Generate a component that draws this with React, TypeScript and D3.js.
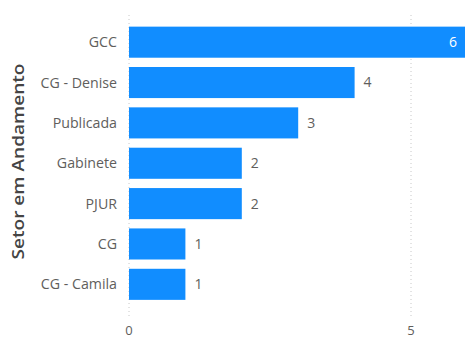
import React from "react";
import * as d3 from "d3";

const categories = ["GCC", "CG - Denise", "Publicada", "Gabinete", "PJUR", "CG", "CG - Camila"];
const values = [6, 4, 3, 2, 2, 1, 1];
const xTicks = [0, 5];
const axisTitle = "Setor em Andamento";

const W = 465;
const H = 338;

export default function App() {
  const x = d3.scaleLinear().domain([0, 5]).range([129, 411]);
  const y = d3.scaleBand<string>().domain(categories).range([22, 304.5]).paddingInner(0.23).paddingOuter(0.115);
  const font = "'Open Sans', 'Noto Sans', sans-serif";
  return (
    <div style={{ position: "fixed", left: 0, top: 0 }}>
      <svg width={W} height={H} style={{ display: "block", background: "#fff" }}>
        {xTicks.map((t) => (
          <line key={"g" + t} x1={x(t)} x2={x(t)} y1={15} y2={316} stroke="#c8c8c8" strokeWidth={1} strokeDasharray="1,3" />
        ))}
        {categories.map((c, i) => {
          const v = values[i];
          const y0 = y(c)!;
          const bw = y.bandwidth();
          const xe = x(v);
          const inside = xe > W - 20;
          return (
            <g key={c}>
              <rect x={x(0)} y={y0} width={xe - x(0)} height={bw} fill="#118DFF" />
              <text x={117} y={y0 + bw / 2} dy="0.35em" textAnchor="end" fontFamily={font} fontSize={14.2} fill="#605E5C">{c}</text>
              <text
                x={inside ? Math.min(xe, W) - 8 : xe + 9}
                y={y0 + bw / 2}
                dy="0.35em"
                textAnchor={inside ? "end" : "start"}
                fontFamily={font}
                fontSize={14}
                fill={inside ? "#ffffff" : "#605E5C"}
              >
                {v}
              </text>
            </g>
          );
        })}
        {xTicks.map((t) => (
          <text key={"t" + t} x={x(t)} y={330} dy="0.35em" textAnchor="middle" fontFamily={font} fontSize={13} fill="#605E5C">{t}</text>
        ))}
        <text
          transform={`translate(18,${161.5}) rotate(-90)`}
          textAnchor="middle"
          dy="0.35em"
          fontFamily={font}
          fontSize={16}
          fontWeight={600}
          fill="#444"
          textLength={196}
          lengthAdjust="spacingAndGlyphs"
        >
          {axisTitle}
        </text>
      </svg>
    </div>
  );
}
